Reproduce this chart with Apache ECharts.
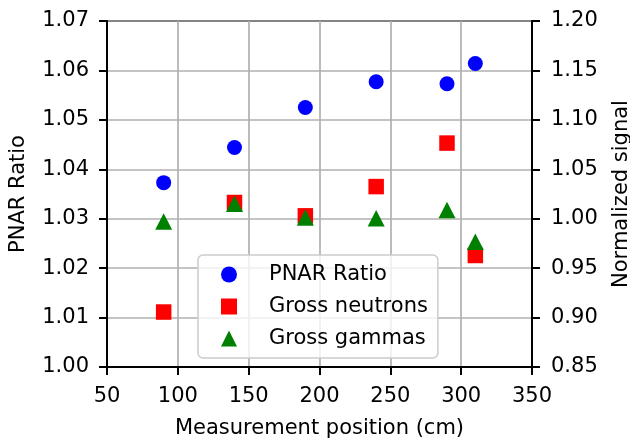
<!DOCTYPE html>
<html>
<head>
<meta charset="utf-8">
<script src="https://cdn.jsdelivr.net/npm/echarts@6/dist/echarts.min.js"></script>
<style>
html,body{margin:0;padding:0;background:#fff;}
#chart{width:630px;height:439px;}
</style>
</head>
<body>
<div id="chart"></div>
<script>
const positions = [90, 140, 190, 240, 290, 310];
const pnarRatio = [1.0373, 1.0444, 1.0525, 1.0577, 1.0573, 1.0614];
const grossNeutrons = [0.9056, 1.0164, 1.0029, 1.0325, 1.0765, 0.9628];
const grossGammas = [0.9973, 1.0152, 1.0012, 1.0004, 1.0088, 0.9767];
const seriesNames = ['PNAR Ratio', 'Gross neutrons', 'Gross gammas'];

const FONT = 'DejaVu Sans';
const FS = 21;
const zip = (xs, ys) => xs.map((x, i) => [x, ys[i]]);

const chart = echarts.init(document.getElementById('chart'), null, {renderer: 'canvas'});
chart.setOption({
  animation: false,
  backgroundColor: '#fff',
  textStyle: {fontFamily: FONT, color: '#000'},
  grid: {left: 107, right: 98, top: 21, bottom: 72, containLabel: false, outerBoundsMode: 'none',
         show: true, borderColor: '#000', borderWidth: 2, backgroundColor: 'transparent'},
  legend: {
    orient: 'vertical', left: 198, top: 255,
    data: [
      {name: seriesNames[0], icon: 'circle'},
      {name: seriesNames[1], icon: 'rect'},
      {name: seriesNames[2], icon: 'triangle'}
    ],
    itemWidth: 16, itemHeight: 16, itemGap: 11,
    padding: [9, 10, 9, 23],
    borderColor: '#cccccc', borderWidth: 1.5, borderRadius: 5,
    backgroundColor: 'rgba(255,255,255,0.8)',
    textStyle: {fontFamily: FONT, fontSize: FS, color: '#000', padding: [0, 0, 0, 27], lineHeight: 16}
  },
  xAxis: {
    type: 'value', min: 50, max: 350, interval: 50,
    name: 'Measurement position (cm)', nameLocation: 'middle', nameGap: 51,
    nameTextStyle: {fontFamily: FONT, fontSize: FS, color: '#000'},
    axisLine: {show: true, lineStyle: {color: '#000', width: 2}},
    axisTick: {show: true, inside: false, length: 8, lineStyle: {color: '#000', width: 2}},
    axisLabel: {fontFamily: FONT, fontSize: FS, color: '#000', margin: 19},
    splitLine: {show: true, lineStyle: {color: '#b0b0b0', width: 1.7}}
  },
  yAxis: [
    {
      type: 'value', min: 1.00, max: 1.07, interval: 0.01, position: 'left',
      name: 'PNAR Ratio', nameLocation: 'middle', nameGap: 78, nameRotate: 90,
      nameTextStyle: {fontFamily: FONT, fontSize: FS, color: '#000'},
      axisLine: {show: true, lineStyle: {color: '#000', width: 2}},
      axisTick: {show: true, inside: false, length: 8, lineStyle: {color: '#000', width: 2}},
      axisLabel: {fontFamily: FONT, fontSize: FS, color: '#000', margin: 18, formatter: v => v.toFixed(2)},
      splitLine: {show: true, lineStyle: {color: '#b0b0b0', width: 1.7}}
    },
    {
      type: 'value', min: 0.85, max: 1.20, interval: 0.05, position: 'right',
      name: 'Normalized signal', nameLocation: 'middle', nameGap: 79, nameRotate: 90,
      nameTextStyle: {fontFamily: FONT, fontSize: FS, color: '#000'},
      axisLine: {show: true, lineStyle: {color: '#000', width: 2}},
      axisTick: {show: true, inside: false, length: 8, lineStyle: {color: '#000', width: 2}},
      axisLabel: {fontFamily: FONT, fontSize: FS, color: '#000', margin: 19, formatter: v => v.toFixed(2)},
      splitLine: {show: false}
    }
  ],
  series: [
    {name: seriesNames[0], type: 'scatter', yAxisIndex: 0, symbol: 'circle', symbolSize: 15,
     itemStyle: {color: '#0000ff', opacity: 1}, data: zip(positions, pnarRatio), z: 3},
    {name: seriesNames[1], type: 'scatter', yAxisIndex: 1, symbol: 'rect', symbolSize: 15.5,
     itemStyle: {color: '#ff0000', opacity: 1}, data: zip(positions, grossNeutrons), z: 3},
    {name: seriesNames[2], type: 'scatter', yAxisIndex: 1, symbol: 'triangle', symbolSize: [17, 16.5],
     itemStyle: {color: '#008000', opacity: 1}, data: zip(positions, grossGammas), z: 3}
  ]
});
</script>
</body>
</html>
